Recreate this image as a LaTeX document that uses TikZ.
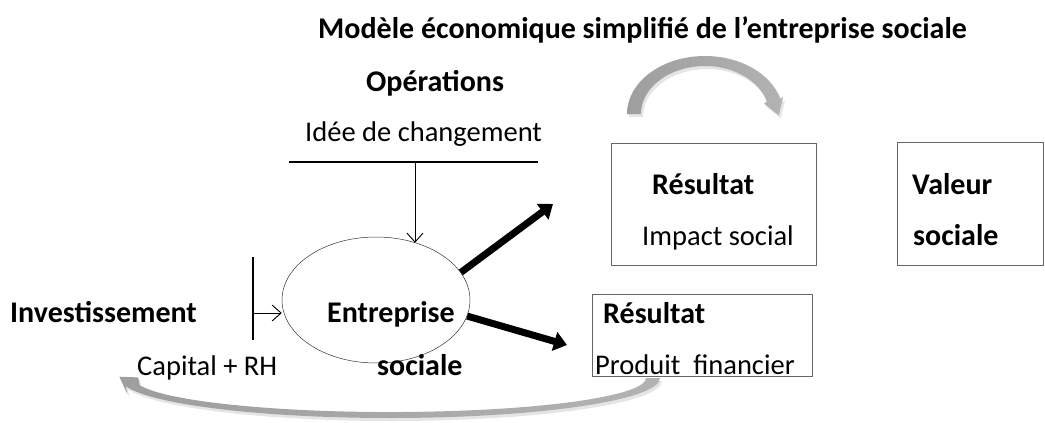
\documentclass[tikz,border=0pt]{standalone}
\usepackage{fontspec}
\setmainfont{Carlito}
\usetikzlibrary{arrows.meta,shapes.geometric}

\begin{document}
\begin{tikzpicture}[x=1pt, y=-1pt,
    txt/.style={font=\fontsize{28.5}{32}\selectfont, inner sep=0pt, anchor=base west},
    hd/.style={txt, font=\fontsize{30}{34}\selectfont\bfseries},
    box/.style={draw=black!60, line width=0.8pt, minimum width=#1, inner sep=0pt},
    feed/.style={-{Straight Barb[length=9pt,width=16pt]}, line width=0.9pt},
    flow/.style={-{Triangle[length=13pt,width=19pt]}, line width=7pt},
    swoosh/.style={left color=black!38, middle color=white, right color=black!30,
        preaction={fill=black, opacity=.1, transform canvas={shift={(2pt,-3pt)}}}}]
    \useasboundingbox (0,0) rectangle (1045,423);

    % Title
    \node[hd] (title) at (318,38) {Modèle économique simplifié de l’entreprise sociale};

    % Operations and the idea bar
    \node[hd] (ops) at (366,91) {Opérations};
    \node[txt] (idea) at (305,141) {Idée de changement};
    \coordinate (barL) at (289,162);
    \coordinate (barR) at (538,162);
    \coordinate (barM) at (415,162);
    \draw[line width=2pt] (barL) -- (barR);

    % The social enterprise
    \node[ellipse, draw=black!80, line width=0.5pt, minimum width=188, minimum height=126] (ent) at (376,300) {};
    \node[hd] (entA) at (327,322) {Entreprise};
    \node[hd] (entB) at (377,375) {sociale};

    % Investment side
    \node[hd] (inv) at (10,322) {Investissement};
    \node[txt] (cap) at (137,375) {Capital + RH};
    \coordinate (vbarT) at (253,257);
    \coordinate (vbarB) at (253,340);
    \coordinate (vbarM) at (253,313);
    \draw[line width=1.5pt] (vbarT) -- (vbarB);

    % Result boxes
    \node[box=205, minimum height=122] (res1) at (713.5,204) {};
    \node[hd] (res1A) at (652,194) {Résultat};
    \node[txt] (res1B) at (642,245) {Impact social};
    \node[box=146, minimum height=123] (val) at (970,203.5) {};
    \node[hd] (valA) at (912,194) {Valeur};
    \node[hd] (valB) at (913,245) {sociale};
    \node[box=220, minimum height=82] (res2) at (702,335) {};
    \node[hd] (res2A) at (603,323) {Résultat};
    \node[txt] (res2B) at (595,374) {Produit\ \ financier};

    % Connectors
    \draw[feed] (barM) -- (barM |- ent.55);
    \draw[feed] (vbarM) -- (vbarM -| ent.west);
    \coordinate (tip1) at (553,204);
    \coordinate (tip2) at (567,345);
    \draw[flow] (ent.18) -- (tip1);
    \draw[flow] (ent.-10) -- (tip2);

    % Curved grey arrows
    \shade[swoosh] (627,114) arc[start angle=180, end angle=345, x radius=78, y radius=58]
        -- (783.1,97) -- (778.8,115.4) -- (764.1,103.6) -- (766.8,101.6)
        arc[start angle=345, end angle=180, x radius=64, y radius=48] -- cycle;
    \shade[swoosh] (660,378) arc[start angle=0, end angle=168, x radius=270, y radius=40]
        -- (127.2,394) -- (119.4,376.7) -- (138.2,377.4) -- (139.6,385.1)
        arc[start angle=168, end angle=0, x radius=256, y radius=34] -- cycle;
\end{tikzpicture}
\end{document}
